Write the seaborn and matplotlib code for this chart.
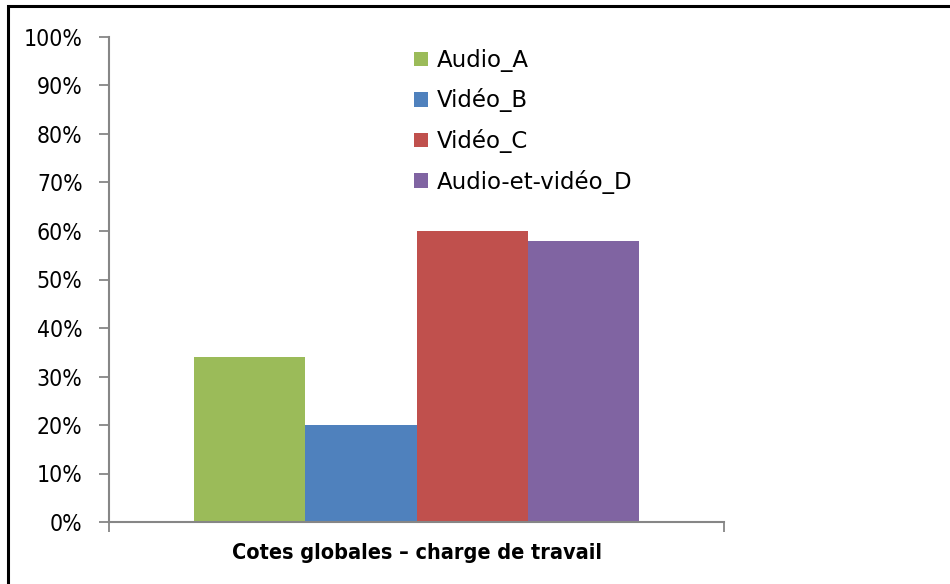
import matplotlib
matplotlib.use("Agg")
import matplotlib.pyplot as plt
from matplotlib.patches import Rectangle
from matplotlib.ticker import PercentFormatter, FixedLocator
from matplotlib import font_manager
import pandas as pd
import seaborn as sns

# Chart data
category = ["Cotes globales \u2013 charge de travail"]
series = ["Audio_A", "Vidéo_B", "Vidéo_C", "Audio-et-vidéo_D"]
values = [34, 20, 60, 58]
colors = ["#9BBB59", "#4F81BD", "#C0504D", "#8064A2"]
y_ticks = [0, 10, 20, 30, 40, 50, 60, 70, 80, 90, 100]

df = pd.DataFrame({
    "categorie": category * len(series),
    "serie": series,
    "valeur": values,
})

sns.set_theme(style="white")
plt.rcParams["font.family"] = ["DejaVu Sans"]
plt.rcParams["text.color"] = "black"

narrow = font_manager.FontProperties(family="DejaVu Sans", stretch="condensed",
                                     size=16.5)
narrow_bold = font_manager.FontProperties(family="DejaVu Sans", stretch="condensed",
                                          weight="bold", size=15.5)

fig = plt.figure(figsize=(9.5, 5.84), dpi=100)
ax = fig.add_axes([109 / 950, 62 / 584, 615 / 950, 485 / 584])

sns.barplot(data=df, x="categorie", y="valeur", hue="serie",
            palette=colors, width=0.724, saturation=1, ax=ax,
            edgecolor="none", linewidth=0)

ax.set_ylim(0, 100)
ax.set_xlim(-0.5, 0.5)
ax.yaxis.set_major_locator(FixedLocator(y_ticks))
ax.yaxis.set_major_formatter(PercentFormatter(decimals=0))
ax.set_xlabel("")
ax.set_ylabel("")

# Category boundary ticks on the x axis, label centred without a tick
ax.set_xticks([0])
ax.set_xticks([-0.5, 0.5], minor=True)
ax.tick_params(axis="x", which="major", length=0, pad=15)
ax.tick_params(axis="x", which="minor", length=7, width=1.3, color="#868686",
               direction="out", bottom=True)
for lab in ax.get_xticklabels():
    lab.set_fontproperties(narrow_bold)
    lab.set_color("black")

ax.tick_params(axis="y", length=7, width=1.3, color="#868686", direction="out",
               left=True, labelcolor="black", pad=12)
for lab in ax.get_yticklabels():
    lab.set_fontproperties(narrow)

for side in ["top", "right"]:
    ax.spines[side].set_visible(False)
for side in ["left", "bottom"]:
    ax.spines[side].set_color("#868686")
    ax.spines[side].set_linewidth(1.5)

leg = ax.legend(loc="upper left", bbox_to_anchor=(414 / 950, 1 - 49 / 584),
                bbox_transform=fig.transFigure, frameon=False,
                fontsize=16.5, handlelength=0.6, handleheight=0.6,
                handletextpad=0.4, labelspacing=0.72, borderpad=0,
                borderaxespad=0)
for t in leg.get_texts():
    t.set_color("black")

# Outer frame of the chart area
fig.add_artist(Rectangle((7.5 / 950, -0.2), 1.2, 1.2 - 6.5 / 584,
                         transform=fig.transFigure, fill=False,
                         edgecolor="black", linewidth=2.2, clip_on=False))

fig.savefig("out.png", dpi=100)
